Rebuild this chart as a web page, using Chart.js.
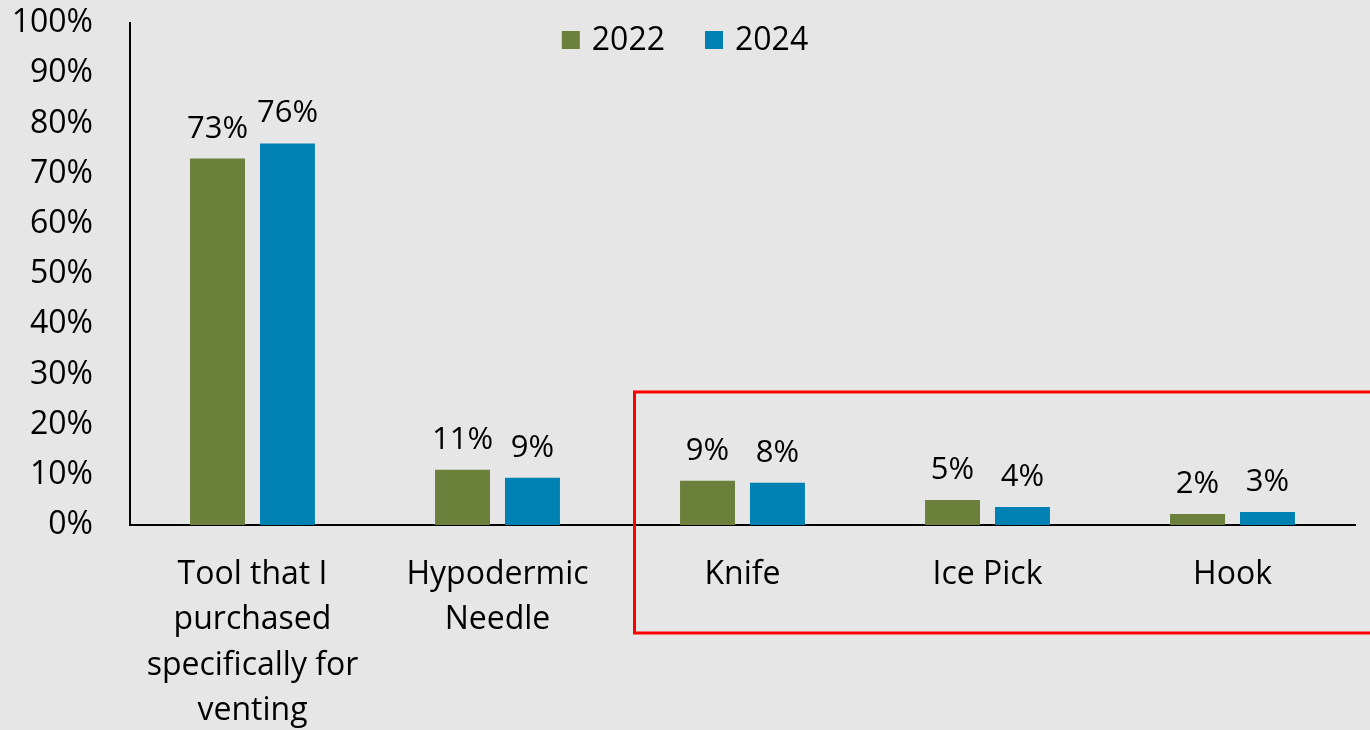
<!DOCTYPE html>
<html>
<head>
<meta charset="utf-8">
<script src="https://cdn.jsdelivr.net/npm/chart.js@4.4.1/dist/chart.umd.min.js"></script>
<style>
  html, body { margin: 0; padding: 0; background: #e6e6e6; }
  #wrap { width: 1370px; height: 730px; }
</style>
</head>
<body>
<div id="wrap"><canvas id="chart"></canvas></div>
<script>
// chart data
const categories = [
    ["Tool that I", "purchased", "specifically for", "venting"],
    ["Hypodermic", "Needle"],
    "Knife",
    "Ice Pick",
    "Hook"
];
const years = ["2022", "2024"];
const values2022 = [73, 11, 8.8, 5, 2.2];
const values2024 = [76, 9.4, 8.4, 3.6, 2.6];
const yMax = 100;
const yStep = 10;
const colors = ["#6b813b", "#0081b3"];

const FONT = "'Open Sans', sans-serif";

// percent labels above each bar
const barLabels = {
    id: 'barLabels',
    afterDatasetsDraw(chart) {
        const ctx = chart.ctx;
        ctx.save();
        ctx.font = "31px " + FONT;
        ctx.fillStyle = "#000";
        ctx.textAlign = "center";
        ctx.textBaseline = "alphabetic";
        chart.data.datasets.forEach((ds, i) => {
            chart.getDatasetMeta(i).data.forEach((bar, j) => {
                ctx.fillText(Math.round(ds.data[j]) + "%", bar.x, bar.y - 21);
            });
        });
        ctx.restore();
    }
};

// legend drawn inside the plot, top centre
const topLegend = {
    id: 'topLegend',
    afterDraw(chart) {
        const ctx = chart.ctx;
        ctx.save();
        ctx.font = "32px " + FONT;
        const box = 18, gap = 12, between = 40;
        const items = chart.data.datasets.map(ds => ({
            text: ds.label, color: ds.backgroundColor,
            w: box + gap + ctx.measureText(ds.label).width
        }));
        const total = items.reduce((s, it) => s + it.w, 0) + between * (items.length - 1);
        let x = chart.width / 2 - total / 2;
        const cy = 40;
        ctx.textBaseline = "middle";
        ctx.textAlign = "left";
        items.forEach(it => {
            ctx.fillStyle = it.color;
            ctx.fillRect(x, cy - box / 2, box, box);
            ctx.fillStyle = "#000";
            ctx.fillText(it.text, x + box + gap, cy + 1);
            x += it.w + between;
        });
        ctx.restore();
    }
};

// red highlight frame round the last three categories
const highlight = {
    id: 'highlight',
    afterDraw(chart) {
        const xs = chart.scales.x, ys = chart.scales.y;
        const left = xs.getPixelForValue(2) - 108;
        const top = ys.getPixelForValue(26.5);
        const bottom = chart.chartArea.bottom + 108;
        const ctx = chart.ctx;
        ctx.save();
        ctx.strokeStyle = "#ff0000";
        ctx.lineWidth = 3;
        ctx.strokeRect(left, top, chart.width - left + 10, bottom - top);
        ctx.restore();
    }
};

new Chart(document.getElementById('chart'), {
    type: 'bar',
    data: {
        labels: categories,
        datasets: [{
            label: years[0],
            data: values2022,
            backgroundColor: colors[0],
            borderWidth: 0,
            categoryPercentage: 0.571,
            barPercentage: 0.786
        }, {
            label: years[1],
            data: values2024,
            backgroundColor: colors[1],
            borderWidth: 0,
            categoryPercentage: 0.571,
            barPercentage: 0.786
        }]
    },
    options: {
        responsive: true,
        maintainAspectRatio: false,
        animation: false,
        layout: { padding: { top: 23, right: 15, left: 0, bottom: 0 } },
        plugins: {
            legend: { display: false },
            tooltip: { enabled: false }
        },
        scales: {
            x: {
                grid: { display: false, drawTicks: false },
                border: { display: true, color: "#000", width: 2 },
                ticks: {
                    color: "#000",
                    font: { family: FONT, size: 32, lineHeight: 1.42 },
                    padding: 27,
                    maxRotation: 0,
                    autoSkip: false
                },
                afterFit(s) { s.height = 205; s.paddingLeft = 0; s.paddingRight = 0; }
            },
            y: {
                min: 0,
                max: yMax,
                grid: { display: false, drawTicks: false },
                border: { display: true, color: "#000", width: 2 },
                ticks: {
                    stepSize: yStep,
                    color: "#000",
                    font: { family: FONT, size: 32 },
                    padding: 37,
                    callback: v => v + "%"
                },
                afterFit(s) { s.width = 130; s.paddingTop = 0; s.paddingBottom = 0; }
            }
        }
    },
    plugins: [barLabels, topLegend, highlight]
});
</script>
</body>
</html>
